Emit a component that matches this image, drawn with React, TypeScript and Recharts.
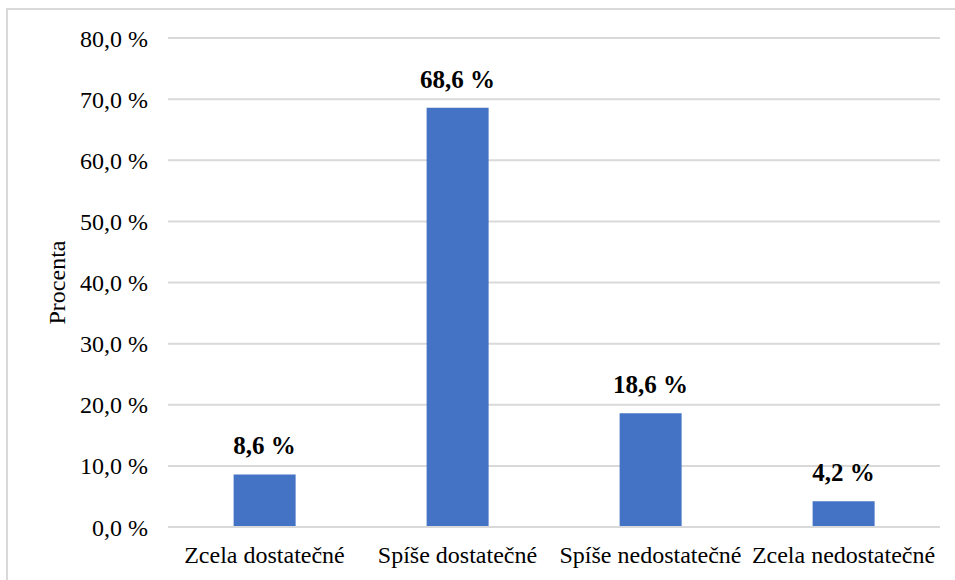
import { BarChart, Bar, XAxis, YAxis, CartesianGrid, LabelList, Label } from 'recharts';

const categories = ['Zcela dostatečné', 'Spíše dostatečné', 'Spíše nedostatečné', 'Zcela nedostatečné'];
const percents = [8.6, 68.6, 18.6, 4.2];
const yTicks = [0, 10, 20, 30, 40, 50, 60, 70, 80];

const data = categories.map((name, i) => ({ name, value: percents[i] }));

const fmt = (v: number) => `${v.toFixed(1).replace('.', ',')} %`;
const font = 'Liberation Serif';

export default function App() {
  return (
    <div style={{ position: 'absolute', left: 0, top: 0, width: 955, height: 580, background: '#fff', fontFamily: font }}>
      <div
        style={{
          position: 'absolute',
          left: 6,
          top: 8,
          right: 0,
          bottom: 0,
          borderTop: '2px solid #d9d9d9',
          borderLeft: '2px solid #d9d9d9',
        }}
      />
      <BarChart
        width={955}
        height={580}
        data={data}
        margin={{ top: 38, right: 15, left: 60, bottom: 13 }}
        barCategoryGap="34%"
        style={{ position: 'absolute', left: 0, top: 0, fontFamily: font }}
      >
        <CartesianGrid vertical={false} stroke="#d9d9d9" strokeWidth={2} />
        <XAxis
          dataKey="name"
          axisLine={{ stroke: '#d9d9d9', strokeWidth: 2 }}
          tickLine={false}
          tickSize={0}
          tickMargin={19}
          height={40}
          interval={0}
          tick={{ fill: '#000', fontSize: 24, fontFamily: font }}
        />
        <YAxis
          width={108}
          domain={[0, 80]}
          ticks={yTicks}
          tickFormatter={fmt}
          axisLine={false}
          tickLine={false}
          tickSize={0}
          tickMargin={20}
          tick={{ fill: '#000', fontSize: 24, fontFamily: font }}
        >
          <Label
            content={({ viewBox }: any) => {
              const cx = 57;
              const cy = viewBox.y + viewBox.height / 2;
              return (
                <text
                  x={cx}
                  y={cy}
                  transform={`rotate(-90, ${cx}, ${cy})`}
                  textAnchor="middle"
                  dominantBaseline="central"
                  style={{ fontSize: 24, fontFamily: font }}
                  fill="#000"
                >
                  Procenta
                </text>
              );
            }}
          />
        </YAxis>
        <Bar dataKey="value" fill="#4472C4" isAnimationActive={false}>
          <LabelList
            dataKey="value"
            position="top"
            offset={20}
            formatter={(v: any) => fmt(Number(v))}
            fill="#000"
            style={{ fontSize: 25, fontWeight: 'bold', fontFamily: font }}
          />
        </Bar>
      </BarChart>
    </div>
  );
}
